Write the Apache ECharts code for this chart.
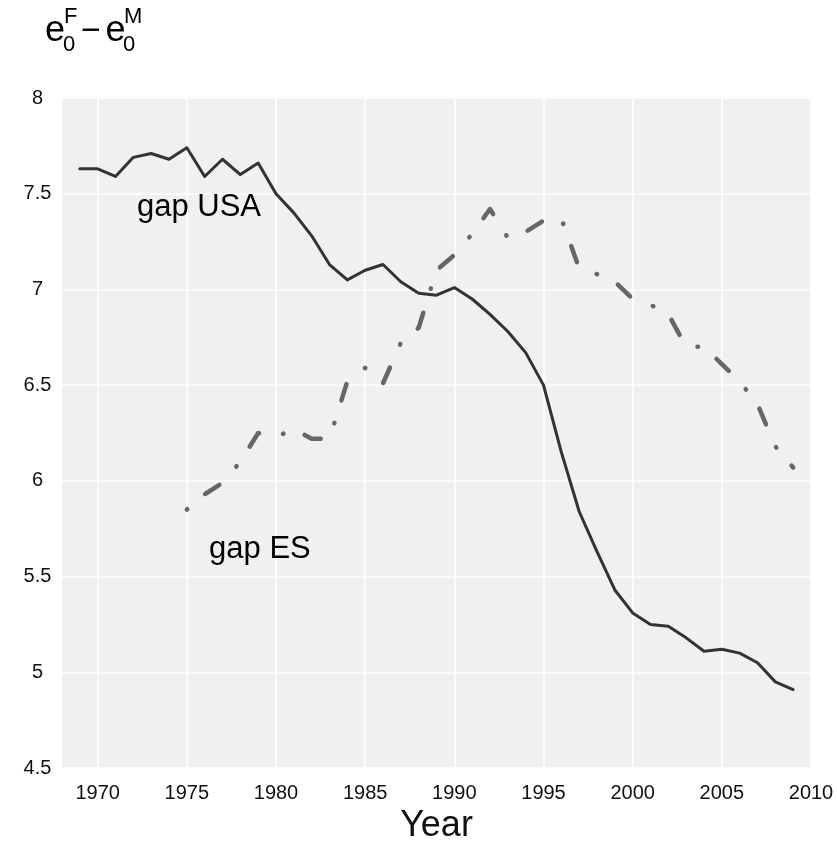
<!DOCTYPE html>
<html>
<head>
<meta charset="utf-8">
<script src="https://cdn.jsdelivr.net/npm/echarts@6/dist/echarts.min.js"></script>
<style>
  html, body { margin: 0; padding: 0; background: #fff; }
  #chart { width: 837px; height: 862px; }
</style>
</head>
<body>
<div id="chart"></div>
<script>
// Years of observation
const years = [1969, 1970, 1971, 1972, 1973, 1974, 1975, 1976, 1977, 1978, 1979,
  1980, 1981, 1982, 1983, 1984, 1985, 1986, 1987, 1988, 1989,
  1990, 1991, 1992, 1993, 1994, 1995, 1996, 1997, 1998, 1999,
  2000, 2001, 2002, 2003, 2004, 2005, 2006, 2007, 2008, 2009];

// Female minus male life expectancy at birth, USA
const gapUSA = [7.63, 7.63, 7.59, 7.69, 7.71, 7.68, 7.74, 7.59, 7.68, 7.60, 7.66,
  7.50, 7.40, 7.28, 7.13, 7.05, 7.10, 7.13, 7.04, 6.98, 6.97,
  7.01, 6.95, 6.87, 6.78, 6.67, 6.50, 6.15, 5.84, 5.63, 5.43,
  5.31, 5.25, 5.24, 5.18, 5.11, 5.12, 5.10, 5.05, 4.95, 4.91];

// Female minus male life expectancy at birth, Spain (no data before 1975)
const gapES = [null, null, null, null, null, null, 5.85, 5.93, 5.99, 6.10, 6.25,
  6.23, 6.27, 6.22, 6.22, 6.52, 6.59, 6.51, 6.72, 6.80, 7.10,
  7.18, 7.29, 7.42, 7.27, 7.30, 7.36, 7.37, 7.11, 7.08, 7.04,
  6.95, 6.92, 6.87, 6.70, 6.70, 6.61, 6.52, 6.40, 6.18, 6.07];

// Tick values
const xTicks = [1970, 1975, 1980, 1985, 1990, 1995, 2000, 2005, 2010];
const yTicks = [4.5, 5, 5.5, 6, 6.5, 7, 7.5, 8];

// In-plot series labels: [text, year, value]
const seriesLabels = [
  ['gap USA', 1975.68, 7.43],
  ['gap ES', 1979.1, 5.64]
];

const usaData = years.map((y, i) => [y, gapUSA[i]]);
const esData = years.map((y, i) => [y, gapES[i]]).filter(d => d[1] !== null);

const FONT = 'Liberation Sans, Arial, Helvetica, sans-serif';

const chart = echarts.init(document.getElementById('chart'), null, { renderer: 'canvas' });

const option = {
  animation: false,
  backgroundColor: '#ffffff',
  grid: {
    left: 62, right: 26, top: 98, bottom: 94,
    show: true, backgroundColor: '#f0f0f0', borderWidth: 0
  },
  xAxis: {
    type: 'value',
    min: 1968, max: 2010,
    name: 'Year',
    nameLocation: 'middle',
    nameGap: 37,
    nameTextStyle: { fontFamily: FONT, fontSize: 36, color: '#111' },
    axisLine: { show: false },
    axisTick: { show: false, customValues: xTicks },
    axisLabel: {
      customValues: xTicks,
      fontFamily: FONT, fontSize: 20, color: '#111', margin: 15,
      formatter: v => String(v)
    },
    splitLine: { show: true, lineStyle: { color: '#ffffff', width: 1.6 } }
  },
  yAxis: {
    type: 'value',
    min: 4.5, max: 8, interval: 0.5,
    axisLine: { show: false },
    axisTick: { show: false },
    axisLabel: {
      fontFamily: FONT, fontSize: 20, color: '#111', margin: 24.5, align: 'center',
      formatter: v => (yTicks.includes(v) ? String(v) : '')
    },
    splitLine: { show: true, lineStyle: { color: '#ffffff', width: 1.6 } }
  },
  series: [
    {
      name: 'gap USA',
      type: 'line',
      data: usaData,
      showSymbol: false,
      lineStyle: { color: '#333333', width: 3, join: 'round', cap: 'round' }
    },
    {
      name: 'gap ES',
      type: 'line',
      data: esData,
      showSymbol: false,
      lineStyle: {
        color: '#666666', width: 4.5, cap: 'round', join: 'round',
        type: [0.5, 23.5, 17, 25]
      }
    }
  ]
};

chart.setOption(option);

// Place the in-plot labels at their data coordinates
const labelGraphics = seriesLabels.map(([txt, x, y]) => {
  const p = chart.convertToPixel({ gridIndex: 0 }, [x, y]);
  return {
    type: 'text',
    x: p[0], y: p[1],
    style: {
      text: txt, fill: '#000', font: '31px ' + FONT,
      textAlign: 'center', textVerticalAlign: 'middle'
    }
  };
});

// Y axis title: e0^F − e0^M
const titleGraphics = [
  { type: 'text', x: 45, y: 31, style: { text: 'e', fill: '#000', font: '36px ' + FONT, textVerticalAlign: 'middle' } },
  { type: 'text', x: 64, y: 17, style: { text: 'F', fill: '#000', font: '22px ' + FONT, textVerticalAlign: 'middle' } },
  { type: 'text', x: 63, y: 45, style: { text: '0', fill: '#000', font: '22px ' + FONT, textVerticalAlign: 'middle' } },
  { type: 'text', x: 81, y: 32, style: { text: '\u2212', fill: '#000', font: '34px ' + FONT, textVerticalAlign: 'middle' } },
  { type: 'text', x: 105.5, y: 31, style: { text: 'e', fill: '#000', font: '36px ' + FONT, textVerticalAlign: 'middle' } },
  { type: 'text', x: 124, y: 17, style: { text: 'M', fill: '#000', font: '22px ' + FONT, textVerticalAlign: 'middle' } },
  { type: 'text', x: 123, y: 45, style: { text: '0', fill: '#000', font: '22px ' + FONT, textVerticalAlign: 'middle' } }
];

chart.setOption({ graphic: labelGraphics.concat(titleGraphics) });
</script>
</body>
</html>
